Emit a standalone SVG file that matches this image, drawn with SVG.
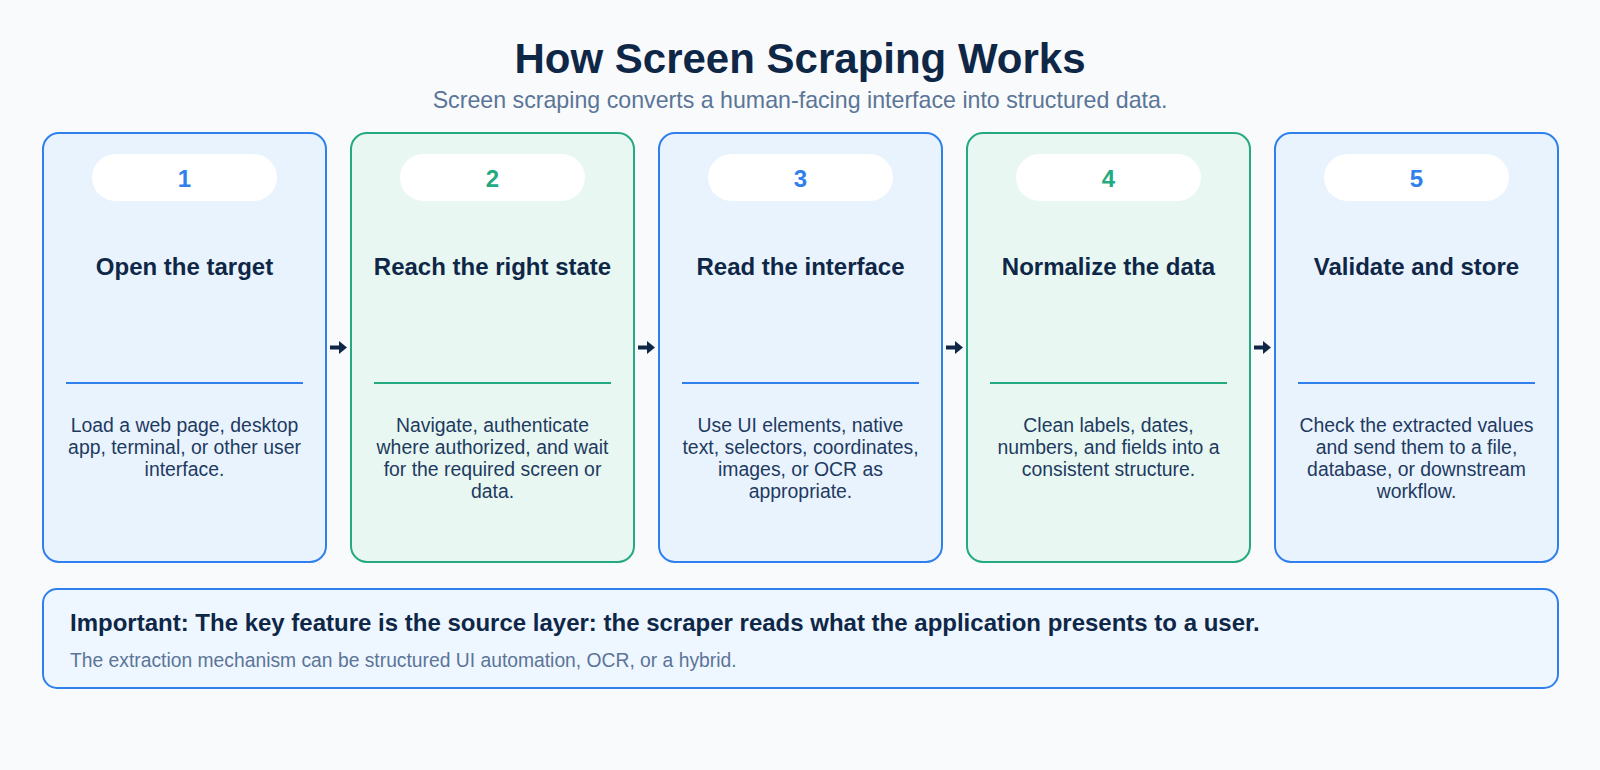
<svg xmlns="http://www.w3.org/2000/svg" width="1600" height="770" viewBox="0 0 1600 770">
<defs>
<style>
.bg{fill:#f8fafc}
.card-blue{fill:#e9f3fe;stroke:#2f80ed;stroke-width:2}
.card-green{fill:#e8f7f2;stroke:#25a981;stroke-width:2}
.pill{fill:#ffffff}
.num{font-family:"Liberation Sans",Arial,sans-serif;font-weight:bold;font-size:24px;text-anchor:middle}
.num-blue{fill:#2f80ed}
.num-green{fill:#25a981}
.title{font-family:"Liberation Sans",Arial,sans-serif;font-weight:bold;font-size:24px;fill:#0f2747;text-anchor:middle}
.desc{font-family:"Liberation Sans",Arial,sans-serif;font-size:19.4px;fill:#1e3a5f;text-anchor:middle}
.div-blue{stroke:#2f80ed;stroke-width:2}
.div-green{stroke:#25a981;stroke-width:2}
.conn{stroke:#0f2747;stroke-width:4;fill:none}
</style>
<marker id="arrow" markerUnits="userSpaceOnUse" markerWidth="8" markerHeight="13" refX="0" refY="6.5" orient="auto">
<path d="M0,0 L8,6.5 L0,13 z" fill="#0f2747"/>
</marker>
</defs>
<rect class="bg" x="0" y="0" width="1600" height="770"/>
<g id="header">
<text x="800" y="73" font-family="Liberation Sans, Arial, sans-serif" font-weight="bold" font-size="42" fill="#0f2747" text-anchor="middle">How Screen Scraping Works</text>
<text x="800" y="108" font-family="Liberation Sans, Arial, sans-serif" font-size="23.2" fill="#5b7597" text-anchor="middle">Screen scraping converts a human-facing interface into structured data.</text>
</g>
<g id="step1">
<rect class="card-blue" x="43" y="133" width="283" height="429" rx="16"/>
<rect class="pill" x="92" y="154" width="185" height="47" rx="23.5"/>
<text class="num num-blue" x="184.5" y="187">1</text>
<text class="title" x="184.5" y="275">Open the target</text>
<line class="div-blue" x1="66" y1="383" x2="303" y2="383"/>
<text class="desc" x="184.5" y="432"><tspan x="184.5">Load a web page, desktop</tspan><tspan x="184.5" dy="22">app, terminal, or other user</tspan><tspan x="184.5" dy="22">interface.</tspan></text>
</g>
<g id="step2">
<rect class="card-green" x="351" y="133" width="283" height="429" rx="16"/>
<rect class="pill" x="400" y="154" width="185" height="47" rx="23.5"/>
<text class="num num-green" x="492.5" y="187">2</text>
<text class="title" x="492.5" y="275">Reach the right state</text>
<line class="div-green" x1="374" y1="383" x2="611" y2="383"/>
<text class="desc" x="492.5" y="432"><tspan x="492.5">Navigate, authenticate</tspan><tspan x="492.5" dy="22">where authorized, and wait</tspan><tspan x="492.5" dy="22">for the required screen or</tspan><tspan x="492.5" dy="22">data.</tspan></text>
</g>
<g id="step3">
<rect class="card-blue" x="659" y="133" width="283" height="429" rx="16"/>
<rect class="pill" x="708" y="154" width="185" height="47" rx="23.5"/>
<text class="num num-blue" x="800.5" y="187">3</text>
<text class="title" x="800.5" y="275">Read the interface</text>
<line class="div-blue" x1="682" y1="383" x2="919" y2="383"/>
<text class="desc" x="800.5" y="432"><tspan x="800.5">Use UI elements, native</tspan><tspan x="800.5" dy="22">text, selectors, coordinates,</tspan><tspan x="800.5" dy="22">images, or OCR as</tspan><tspan x="800.5" dy="22">appropriate.</tspan></text>
</g>
<g id="step4">
<rect class="card-green" x="967" y="133" width="283" height="429" rx="16"/>
<rect class="pill" x="1016" y="154" width="185" height="47" rx="23.5"/>
<text class="num num-green" x="1108.5" y="187">4</text>
<text class="title" x="1108.5" y="275">Normalize the data</text>
<line class="div-green" x1="990" y1="383" x2="1227" y2="383"/>
<text class="desc" x="1108.5" y="432"><tspan x="1108.5">Clean labels, dates,</tspan><tspan x="1108.5" dy="22">numbers, and fields into a</tspan><tspan x="1108.5" dy="22">consistent structure.</tspan></text>
</g>
<g id="step5">
<rect class="card-blue" x="1275" y="133" width="283" height="429" rx="16"/>
<rect class="pill" x="1324" y="154" width="185" height="47" rx="23.5"/>
<text class="num num-blue" x="1416.5" y="187">5</text>
<text class="title" x="1416.5" y="275">Validate and store</text>
<line class="div-blue" x1="1298" y1="383" x2="1535" y2="383"/>
<text class="desc" x="1416.5" y="432"><tspan x="1416.5">Check the extracted values</tspan><tspan x="1416.5" dy="22">and send them to a file,</tspan><tspan x="1416.5" dy="22">database, or downstream</tspan><tspan x="1416.5" dy="22">workflow.</tspan></text>
</g>
<g id="connectors">
<line class="conn" x1="330" y1="347.5" x2="339" y2="347.5" marker-end="url(#arrow)"/>
<line class="conn" x1="638" y1="347.5" x2="647" y2="347.5" marker-end="url(#arrow)"/>
<line class="conn" x1="946" y1="347.5" x2="955" y2="347.5" marker-end="url(#arrow)"/>
<line class="conn" x1="1254" y1="347.5" x2="1263" y2="347.5" marker-end="url(#arrow)"/>
</g>
<g id="note">
<rect x="43" y="589" width="1515" height="99" rx="14" fill="#eef6ff" stroke="#2f80ed" stroke-width="2"/>
<text x="70" y="631" font-family="Liberation Sans, Arial, sans-serif" font-weight="bold" font-size="24" fill="#0f2747">Important: The key feature is the source layer: the scraper reads what the application presents to a user.</text>
<text x="70" y="667" font-family="Liberation Sans, Arial, sans-serif" font-size="19.3" fill="#5b7597">The extraction mechanism can be structured UI automation, OCR, or a hybrid.</text>
</g>
</svg>
